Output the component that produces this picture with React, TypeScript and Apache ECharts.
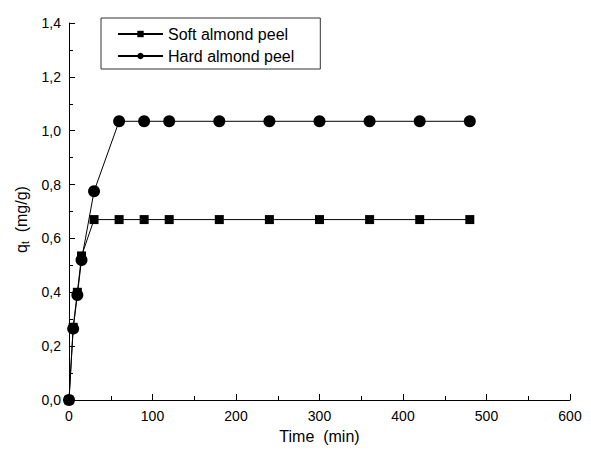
import React, { useEffect, useRef } from "react";
import * as echarts from "echarts";

const times = [0, 5, 10, 15, 30, 60, 90, 120, 180, 240, 300, 360, 420, 480];
const softValues = [0, 0.27, 0.4, 0.535, 0.67, 0.67, 0.67, 0.67, 0.67, 0.67, 0.67, 0.67, 0.67, 0.67];
const hardValues = [0, 0.265, 0.39, 0.52, 0.775, 1.035, 1.035, 1.035, 1.035, 1.035, 1.035, 1.035, 1.035, 1.035];
const seriesNames = ["Soft almond peel", "Hard almond peel"];

export default function App() {
  const ref = useRef<HTMLDivElement>(null);
  useEffect(() => {
    const chart = echarts.init(ref.current!, null, { renderer: "svg" });
    const font = "Liberation Sans, Arial, sans-serif";
    chart.setOption({
      animation: false,
      backgroundColor: "#fff",
      textStyle: { fontFamily: font },
      grid: { left: 69, right: 21, top: 23, bottom: 50 },
      legend: {
        left: 101,
        top: 18,
        orient: "vertical",
        borderColor: "#333",
        borderWidth: 1,
        padding: [8, 26, 5, 16],
        itemGap: 6,
        itemWidth: 45,
        itemHeight: 8,
        textStyle: { fontSize: 16, color: "#000", fontFamily: font },
        data: seriesNames,
      },
      xAxis: {
        type: "value",
        min: 0,
        max: 600,
        interval: 100,
        name: "Time  (min)",
        nameLocation: "middle",
        nameGap: 28,
        nameTextStyle: { fontSize: 16, color: "#000", fontFamily: font },
        axisLine: { show: true, lineStyle: { color: "#000", width: 1 } },
        axisTick: { show: true, inside: true, length: 6, lineStyle: { color: "#000" } },
        minorTick: { show: true, splitNumber: 2, length: 4, lineStyle: { color: "#000" } },
        axisLabel: { fontSize: 14, color: "#000", margin: 9, fontFamily: font },
        splitLine: { show: false },
      },
      yAxis: {
        type: "value",
        min: 0,
        max: 1.4,
        interval: 0.2,
        name: "{q|q}{sub|t}{q|  (mg/g)}",
        nameLocation: "middle",
        nameGap: 35,
        nameRotate: 90,
        nameTextStyle: {
          color: "#000",
          fontFamily: font,
          padding: [0, 16, 0, 0],
          rich: {
            q: { fontSize: 16, color: "#000", fontFamily: font },
            sub: { fontSize: 10, color: "#000", fontFamily: font, verticalAlign: "bottom", padding: [8, 0, 0, 0] },
          },
        },
        axisLine: { show: true, lineStyle: { color: "#000", width: 1 } },
        axisTick: { show: true, inside: true, length: 6, lineStyle: { color: "#000" } },
        minorTick: { show: true, splitNumber: 2, length: 4, lineStyle: { color: "#000" } },
        axisLabel: {
          fontSize: 14,
          color: "#000",
          margin: 8,
          fontFamily: font,
          formatter: (v: number) => v.toFixed(1).replace(".", ","),
        },
        splitLine: { show: false },
      },
      series: [
        {
          name: seriesNames[0],
          type: "line",
          data: times.map((t, i) => [t, softValues[i]]),
          symbol: "rect",
          symbolSize: 9,
          itemStyle: { color: "#000" },
          lineStyle: { color: "#000", width: 1 },
        },
        {
          name: seriesNames[1],
          type: "line",
          data: times.map((t, i) => [t, hardValues[i]]),
          symbol: "circle",
          symbolSize: 12,
          itemStyle: { color: "#000" },
          lineStyle: { color: "#000", width: 1 },
        },
      ],
    });
    return () => chart.dispose();
  }, []);
  return <div ref={ref} style={{ width: 591, height: 450, position: "absolute", left: 0, top: 0 }} />;
}
